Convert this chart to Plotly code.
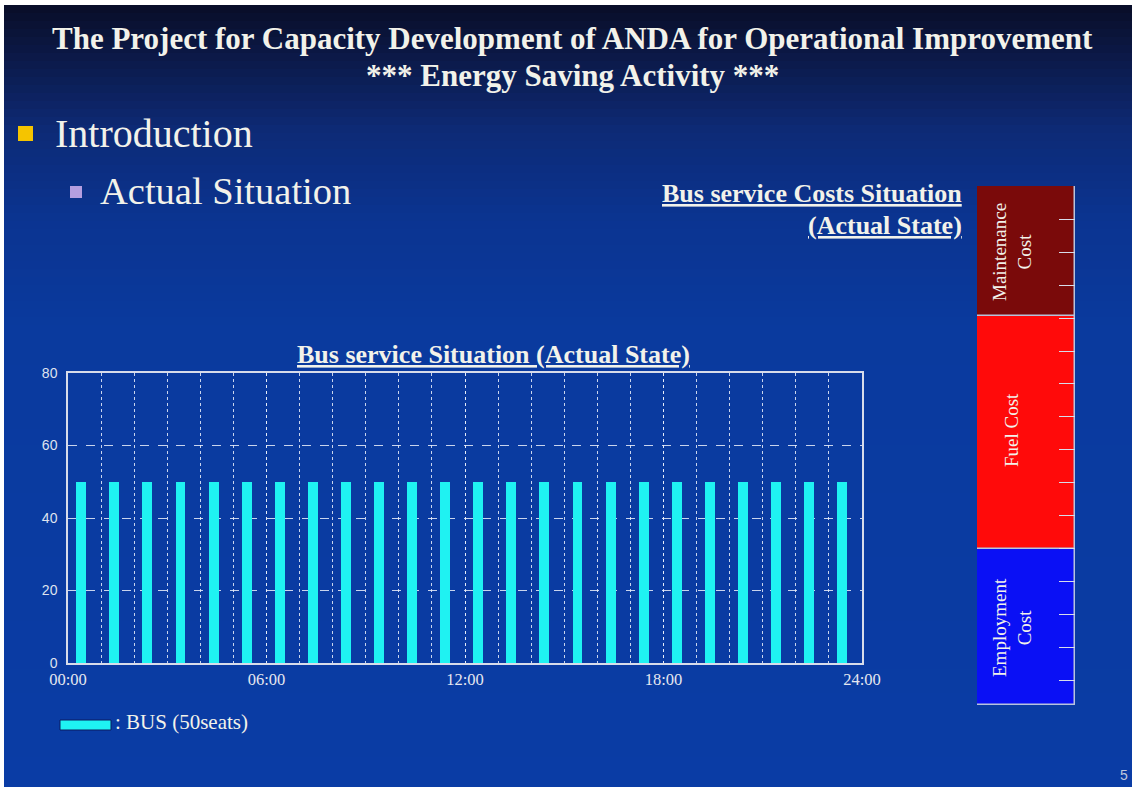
import plotly.graph_objects as go

# ---------------- data ----------------
bus_times = [0.4, 1.4, 2.4, 3.4, 4.4, 5.4, 6.4, 7.4, 8.4, 9.4, 10.4, 11.4,
             12.4, 13.4, 14.4, 15.4, 16.4, 17.4, 18.4, 19.4, 20.4, 21.4, 22.4, 23.4]
bus_seats = [50, 50, 50, 50, 50, 50, 50, 50, 50, 50, 50, 50,
             50, 50, 50, 50, 50, 50, 50, 50, 50, 50, 50, 50]
x_tickvals = [0, 6, 12, 18, 24]
x_ticktext = ["00:00", "06:00", "12:00", "18:00", "24:00"]
y_tickvals = [0, 20, 40, 60, 80]

cost_items = ["Employment Cost", "Fuel Cost", "Maintenance Cost"]
cost_share = [30, 45, 25]
cost_colors = ["#0a10f5", "#ff0a0a", "#7a0a0a"]

W, H = 1132, 787
def px(x): return x / W
def py(y): return (H - y) / H

fig = go.Figure()

fig.add_trace(go.Bar(
    x=bus_times, y=bus_seats, width=0.3,
    marker=dict(color="#1ff2f2", line=dict(width=0)),
    xaxis="x", yaxis="y", showlegend=False, hoverinfo="x+y"))

base = 0
for item, val, col in zip(cost_items, cost_share, cost_colors):
    fig.add_trace(go.Bar(
        x=[0], y=[val], base=[base], width=1, name=item, offset=-0.5,
        marker=dict(color=col, line=dict(color="#b8c4dc", width=1.5)),
        xaxis="x2", yaxis="y2", showlegend=False))
    base += val

# ---------------- background gradient ----------------
stops = [(0, (8, 12, 36)), (60, (12, 26, 74)), (130, (13, 42, 118)),
         (220, (11, 52, 145)), (330, (10, 58, 158)), (787, (10, 60, 165))]
def col_at(y):
    for (y0, c0), (y1, c1) in zip(stops[:-1], stops[1:]):
        if y0 <= y <= y1:
            t = (y - y0) / (y1 - y0) if y1 > y0 else 0
            return "rgb(%d,%d,%d)" % tuple(round(a + (b - a) * t) for a, b in zip(c0, c1))
    return "rgb(10,60,165)"

shapes = []
band = 8
y = 5
while y < H:
    y2 = min(y + band, H)
    shapes.append(dict(type="rect", xref="paper", yref="paper", layer="below",
                       x0=px(4), x1=1, y0=py(min(y2 + 2, H)), y1=py(y),
                       fillcolor=col_at((y + y2) / 2), line=dict(width=0)))
    y = y2

# bullets
shapes.append(dict(type="rect", xref="paper", yref="paper", layer="above",
                   x0=px(18), x1=px(33), y0=py(141), y1=py(126),
                   fillcolor="#f5c400", line=dict(width=0)))
shapes.append(dict(type="rect", xref="paper", yref="paper", layer="above",
                   x0=px(70), x1=px(82), y0=py(198), y1=py(186),
                   fillcolor="#b49ee0", line=dict(width=0)))
# legend swatch
shapes.append(dict(type="rect", xref="paper", yref="paper", layer="above",
                   x0=px(60), x1=px(111), y0=py(730), y1=py(720),
                   fillcolor="#1ff2f2", line=dict(color="#0a1a60", width=1)))

serif = "Liberation Serif, Times New Roman, serif"
txt = "#f2f2ea"
ann = []
def A(text, x, y, size, xanchor="center", bold=False, under=False, angle=0, color=txt, family=serif):
    f = dict(family=family, size=size, color=color)
    if bold:
        f["weight"] = "bold"
    if under:
        f["lineposition"] = "under"
    ann.append(dict(text=text, x=px(x), y=py(y), xref="paper", yref="paper",
                    xanchor=xanchor, yanchor="middle", showarrow=False,
                    font=f, textangle=angle))

A("The Project for Capacity Development of ANDA for Operational Improvement", 572, 38, 31, bold=True)
A("*** Energy Saving Activity ***", 572, 75, 31, bold=True)
A("Introduction", 53, 133, 40, xanchor="left")
A("Actual Situation", 98, 191, 38.5, xanchor="left")
A("Bus service Costs Situation", 964, 193, 26, xanchor="right", bold=True, under=True)
A("(Actual State)", 964, 226, 26, xanchor="right", bold=True, under=True)
A("Bus service Situation (Actual State)", 493, 354, 26, bold=True, under=True)
A(": BUS (50seats)", 113, 722, 21, xanchor="left")
A("Maintenance<br>Cost", 1012, 252, 19, angle=-90)
A("Fuel Cost", 1011, 430, 19, angle=-90)
A("Employment<br>Cost", 1012, 628, 19, angle=-90)
A("5", 1124, 775, 14, family="Liberation Sans", color="#c0c8dc")

grid_col = "rgba(235,240,250,0.85)"
fig.update_layout(
    width=W, height=H, margin=dict(l=0, r=0, t=0, b=0, pad=0, autoexpand=False),
    paper_bgcolor="white", plot_bgcolor="rgba(0,0,0,0)",
    shapes=shapes, annotations=ann, bargap=0, barmode="overlay", showlegend=False,
    xaxis=dict(domain=[px(68), px(862)], range=[0, 24],
               tickvals=x_tickvals, ticktext=x_ticktext, ticks="",
               tickfont=dict(family=serif, size=16.5, color="#e6e8f0"),
               showgrid=True, gridcolor=grid_col, griddash="dot", gridwidth=1,
               minor=dict(dtick=1, tick0=0, showgrid=True, gridcolor=grid_col,
                          griddash="dot", gridwidth=1),
               showline=True, mirror=True, linecolor="#d8dcea", linewidth=1.5,
               zeroline=False, anchor="y", fixedrange=True, automargin=False),
    yaxis=dict(domain=[py(663), py(373)], range=[0, 80],
               tickvals=y_tickvals, ticks="",
               tickfont=dict(family="Liberation Sans", size=14, color="#dfe3ef"),
               showgrid=True, gridcolor=grid_col, griddash="dash", gridwidth=1,
               showline=True, mirror=True, linecolor="#d8dcea", linewidth=1.5,
               zeroline=False, anchor="x", fixedrange=True, ticklabelstandoff=6,
               automargin=False),
    xaxis2=dict(domain=[px(977), px(1075)], range=[-0.5, 0.5], visible=False,
                anchor="y2", fixedrange=True),
    yaxis2=dict(domain=[py(705), py(186)], range=[0, 100], side="right",
                anchor="x2", showgrid=False, zeroline=False, showline=False,
                ticks="inside", ticklen=16, tickwidth=1, tickcolor="#d8dcea",
                tick0=4.8, dtick=6.34, showticklabels=False, fixedrange=True,
                automargin=False),
)

fig.write_html("out.html")
